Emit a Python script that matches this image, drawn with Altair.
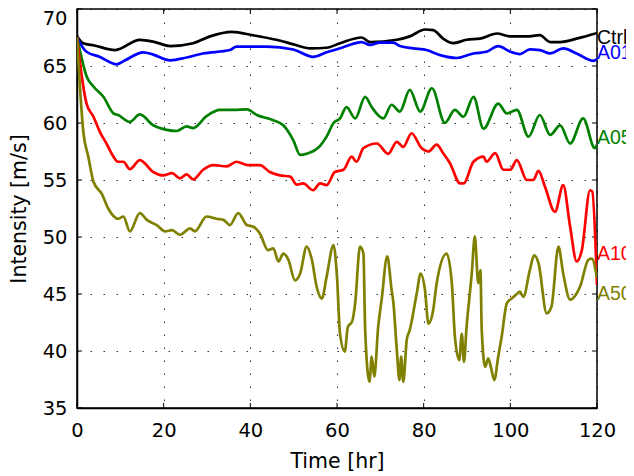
import altair as alt
import pandas as pd

# ---- data ----
ctrl_t = [0, 1.4, 4, 8.8, 14.5, 18, 21.5, 26.8, 30.7, 35.7, 40.6, 46, 50, 53.8, 57.6, 60.7, 65.7, 67.6, 73.8, 76.8,
          80.3, 82.2, 84.5, 86.8, 89.9, 93, 96.9, 100, 103.8, 106.8, 109.2, 111.5, 115.3, 119.2, 120]
ctrl_y = [67.6, 67.0, 66.8, 66.4, 67.3, 67.1, 66.75, 67.0, 67.6, 68.0, 67.7, 67.3, 66.9, 66.55, 66.6, 67.0, 67.5, 67.1,
          67.3, 67.6, 68.2, 68.15, 67.4, 67.0, 67.3, 67.4, 67.85, 67.6, 67.6, 67.7, 67.1, 67.1, 67.4, 67.8, 67.9]

a01_t = [0, 0.7, 2.2, 5.3, 9.2, 11.1, 15.3, 17.6, 21.5, 25.3, 29.1, 35.3, 36.8, 43.8, 49.9, 54.5, 57.6, 60.7, 62.2,
         65.7, 67.6, 69.9, 73, 74.5, 77.6, 80.7, 83.8, 87.6, 91.5, 94.5, 97.2, 100, 102.2, 104.5, 106.8, 109.2, 112.2,
         115.3, 119.2, 120]
a01_y = [67.5, 67.0, 66.25, 65.8, 65.15, 65.5, 66.2, 66.0, 65.5, 65.75, 66.1, 66.4, 66.7, 66.7, 66.45, 65.8, 66.2,
         66.55, 66.75, 67.1, 66.85, 67.05, 67.05, 66.75, 66.55, 66.4, 65.95, 65.7, 66.1, 66.25, 66.75, 66.25, 66.05,
         66.45, 66.4, 66.1, 66.55, 66.1, 65.45, 65.6]

a05_t = [0, 1.0, 2.2, 3.8, 6.1, 8.4, 9.5, 12.2, 14.5, 17.6, 20.7, 23, 25.3, 26.8, 29.9, 33, 36.1, 39.2, 41.5, 45.3,
         47.6, 49.9, 51.5, 53, 56.1, 57.6, 59.2, 60.7, 62.2, 64.2, 66.5, 68, 70.7, 72.6, 74.5, 76.8, 79.2, 81.9, 84.9,
         87.2, 89.2, 91.5, 93.8, 97.2, 99.2, 101.5, 104.2, 106.8, 109.2, 111.5, 113.8, 116.8, 119.5, 120]
a05_y = [67.5, 65.8, 64.1, 63.2, 62.3, 60.85, 60.7, 60.1, 60.75, 59.8, 59.4, 59.3, 59.7, 59.55, 60.6, 61.15, 61.15,
         61.2, 60.7, 60.25, 59.8, 58.5, 57.2, 57.3, 58.0, 58.8, 60.0, 60.4, 61.4, 60.4, 62.3, 61.4, 60.4, 61.6, 61.0,
         62.9, 61.0, 63.05, 60.0, 61.15, 60.55, 62.3, 59.5, 61.7, 60.85, 61.15, 58.8, 60.7, 58.95, 59.8, 58.2, 60.4,
         57.8, 58.1]

a10_t = [0, 1.1, 2.2, 3.8, 5.3, 6.8, 8.4, 9.5, 10.7, 12.2, 14.5, 17.6, 19.9, 21.9, 23.8, 25.3, 26.8, 29.1, 31.5, 34.5,
         36.8, 39.5, 42.2, 44.5, 46.8, 49.2, 50.7, 52.2, 54.5, 56.1, 57.6, 59.5, 61.5, 63.4, 64.5, 66.1, 69.2, 71.8,
         73.8, 75.3, 77.2, 79.5, 81.1, 83, 84.5, 86.1, 88.4, 89.2, 91.5, 93.8, 94.5, 96.5, 98.4, 100, 101.5, 103.8,
         105.3, 106.5, 108, 110.3, 112.2, 113.8, 115.3, 116.5, 118.4, 118.9, 120]
a10_y = [67.5, 64.1, 61.7, 60.55, 59.2, 58.2, 57.05, 56.6, 56.6, 55.95, 56.75, 55.7, 55.4, 55.6, 55.15, 55.5, 55.05,
         55.9, 56.3, 56.2, 56.6, 56.3, 56.3, 55.7, 55.4, 55.3, 54.6, 54.7, 54.1, 54.7, 54.55, 55.7, 55.9, 57.05, 56.6,
         57.8, 58.2, 57.3, 58.35, 57.9, 59.1, 57.8, 57.5, 58.1, 57.35, 56.45, 54.7, 54.7, 56.6, 57.05, 56.6, 57.35,
         55.9, 55.9, 56.75, 55.0, 55.0, 55.8, 54.4, 52.2, 54.55, 50.9, 47.85, 48.85, 54.1, 54.0, 45.8]

a50_t = [0, 1.5, 2.6, 3.8, 5.7, 7.2, 9.5, 10.7, 12.2, 14.5, 16.1, 18.4, 20.3, 21.9, 23.8, 26.1, 27.2, 29.9, 32.2,
         33.8, 35.3, 37.2, 39.2, 40.7, 42.2, 44.1, 45.3, 46.5, 47.6, 48.8, 50.3, 51.5, 53, 54.2, 55.3, 56.5, 57.6,
         59.2, 60.0, 60.7, 61.8, 62.5, 63.5, 64.2, 65.3, 66.1, 66.5, 67.5, 68.0, 68.6, 69.5, 70.3, 71.6, 72.6, 73.0,
         73.8, 74.4, 74.8, 75.3, 76.1, 76.8, 78.4, 79.3, 80.3, 81.1, 82.2, 83.0, 85.3, 86.5, 87.2, 88.2, 88.8, 89.3,
         89.9, 91.1, 91.8, 92.6, 93.1, 93.4, 94.2, 94.9, 95.5, 96.3, 97.2, 98.0, 99.2, 100.3, 101.2, 102.2, 103.0,
         104.5, 105.5, 106.5, 108.4, 109.5, 111.1, 112.2, 113.8, 115.3, 116.1, 118.0, 118.8, 120]
a50_y = [67.5, 59.1, 57.05, 54.85, 53.8, 52.5, 51.6, 51.8, 50.5, 52.1, 51.5, 51.05, 50.5, 50.6, 50.2, 50.75, 50.5,
         51.8, 51.6, 51.5, 51.05, 52.1, 51.05, 50.9, 50.3, 48.85, 49.0, 47.85, 48.55, 48.0, 46.2, 46.8, 49.15, 48.0,
         45.65, 44.6, 46.5, 49.3, 46.5, 41.5, 39.95, 42.1, 42.6, 44.2, 49.15, 48.55, 41.85, 37.3, 39.5, 37.75, 42.1,
         44.5, 48.3, 45.35, 44.3, 40.1, 37.45, 39.5, 37.3, 41.0, 41.85, 45.05, 46.8, 45.35, 42.4, 43.6, 45.95, 48.55,
         45.95, 41.3, 39.2, 41.5, 39.05, 42.1, 46.8, 50.05, 45.95, 47.1, 41.85, 38.6, 39.35, 38.6, 37.45, 39.5, 41.25,
         44.2, 44.6, 44.9, 45.2, 44.75, 47.1, 48.4, 47.7, 43.3, 43.9, 49.15, 46.8, 44.5, 45.05, 45.65, 48.0, 48.1,
         46.4]

series_names = ["Ctrl", "A01", "A05", "A10", "A50"]
series_colors = ["#000000", "#0000ff", "#008000", "#ff0000", "#808000"]
label_values = [67.46, 66.18, 58.66, 48.51, 45.0]

x_ticks = [0, 20, 40, 60, 80, 100, 120]
y_ticks = [35, 40, 45, 50, 55, 60, 65, 70]

# ---- build table ----
rows = []
for name, ts, ys in zip(series_names,
                        [ctrl_t, a01_t, a05_t, a10_t, a50_t],
                        [ctrl_y, a01_y, a05_y, a10_y, a50_y]):
    for t, y in zip(ts, ys):
        rows.append({"series": name, "t": t, "y": y})
df = pd.DataFrame(rows)
labels_df = pd.DataFrame({"series": series_names, "y": label_values})
xt_df = pd.DataFrame({"t": x_ticks})
yt_df = pd.DataFrame({"y": y_ticks})

W, H = 520, 399
FONT = "DejaVu Sans"
LABEL_FONT = "Liberation Sans"

xscale = alt.Scale(domain=[0, 120], nice=False, zero=False)
yscale = alt.Scale(domain=[35, 70], nice=False, zero=False)
cscale = alt.Scale(domain=series_names, range=series_colors)

lines = alt.Chart(df).mark_line(strokeWidth=2.7, clip=True, interpolate="monotone").encode(
    x=alt.X("t:Q", scale=xscale,
            axis=alt.Axis(values=x_ticks, title="Time [hr]", grid=True, ticks=False, labelFlush=False,
                          labelPadding=13, titlePadding=12)),
    y=alt.Y("y:Q", scale=yscale,
            axis=alt.Axis(values=y_ticks, title="Intensity [m/s]", grid=True, ticks=False, labelFlush=False,
                          labelPadding=10, titlePadding=13,
                          labelBaseline={"condition": {"test": "datum.value == 70", "value": "top"},
                                         "value": "middle"})),
    color=alt.Color("series:N", scale=cscale, legend=None),
    order=alt.Order("t:Q"),
)

labels = alt.Chart(labels_df).mark_text(align="left", baseline="middle", fontSize=19.5, font=LABEL_FONT,
                                        clip=False).encode(
    x=alt.value(W),
    y=alt.Y("y:Q", scale=yscale),
    text=alt.Text("series:N"),
    color=alt.Color("series:N", scale=cscale, legend=None),
)

tl = 5
ytick_left = alt.Chart(yt_df).mark_rule(color="black", strokeWidth=1).encode(
    x=alt.value(0), x2=alt.value(tl), y=alt.Y("y:Q", scale=yscale))
ytick_right = alt.Chart(yt_df).mark_rule(color="black", strokeWidth=1).encode(
    x=alt.value(W - tl), x2=alt.value(W), y=alt.Y("y:Q", scale=yscale))
xtick_bottom = alt.Chart(xt_df).mark_rule(color="black", strokeWidth=1).encode(
    y=alt.value(H), y2=alt.value(H - tl), x=alt.X("t:Q", scale=xscale))
xtick_top = alt.Chart(xt_df).mark_rule(color="black", strokeWidth=1).encode(
    y=alt.value(0), y2=alt.value(tl), x=alt.X("t:Q", scale=xscale))

chart = alt.layer(ytick_left, ytick_right, xtick_bottom, xtick_top, lines, labels).properties(
    width=W, height=H,
    background="white",
    autosize=alt.AutoSizeParams(type="none"),
    padding={"left": 69, "top": 1, "right": 29, "bottom": 66},
).configure_view(
    stroke="black", strokeWidth=1.5,
).configure_axis(
    domain=True, domainColor="black", domainWidth=1.5,
    gridColor="#000000", gridOpacity=0.8, gridDash=[1.5, 11.5], gridWidth=1,
    labelFont=FONT, labelFontSize=19.5, labelColor="black",
    titleFont=FONT, titleFontSize=20.5, titleFontWeight="normal", titleColor="black",
)

chart.save("out.html", embed_options={"renderer": "svg", "actions": False})
